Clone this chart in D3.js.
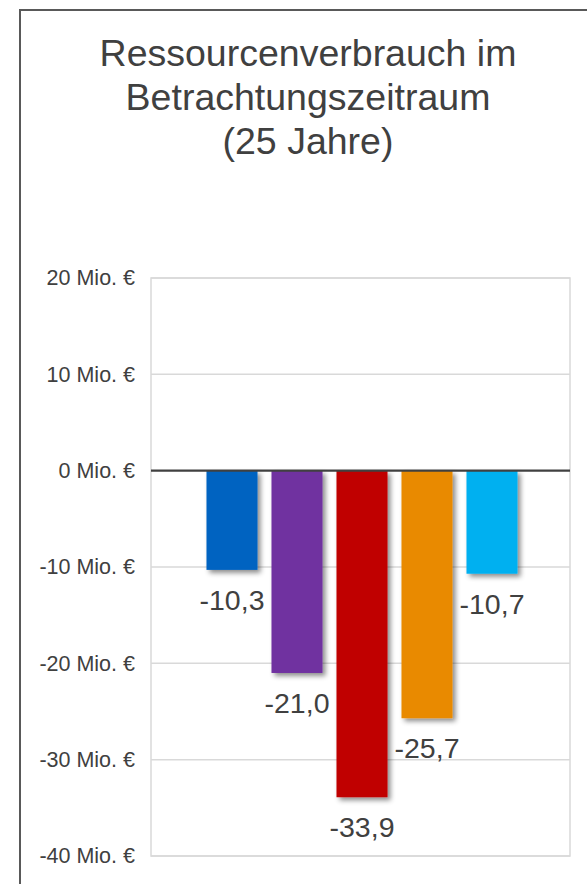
<!DOCTYPE html>
<html>
<head>
<meta charset="utf-8">
<script src="https://cdn.jsdelivr.net/npm/d3@7"></script>
<style>
  html, body { margin: 0; padding: 0; background: #fff; }
  svg { display: block; font-family: "Liberation Sans", Arial, sans-serif; }
</style>
</head>
<body>
<script>
// chart values
const titleLines = ["Ressourcenverbrauch im", "Betrachtungszeitraum", "(25 Jahre)"];
const series = ["A", "B", "C", "D", "E"];
const values = [-10.3, -21.0, -33.9, -25.7, -10.7];
const colors = ["#0563C1", "#7030A0", "#C00000", "#E98A00", "#00B0F0"];
const yTicks = [20, 10, 0, -10, -20, -30, -40];

const w = 587, h = 884;
const svg = d3.select("body").append("svg")
  .attr("width", w)
  .attr("height", h);

const defs = svg.append("defs");
const f = defs.append("filter").attr("id", "shadow")
  .attr("x", "-20%").attr("y", "-20%").attr("width", "150%").attr("height", "150%");
f.append("feDropShadow")
  .attr("dx", 3).attr("dy", 3).attr("stdDeviation", 2.5)
  .attr("flood-color", "#000").attr("flood-opacity", 0.45);

// outer frame (only left and top visible)
svg.append("rect")
  .attr("x", 20).attr("y", 10)
  .attr("width", 600).attr("height", 900)
  .attr("fill", "none")
  .attr("stroke", "#595959")
  .attr("stroke-width", 2);

// title
svg.append("g")
  .selectAll("text")
  .data(titleLines)
  .join("text")
  .attr("x", 308)
  .attr("y", (d, i) => 66 + i * 44)
  .attr("text-anchor", "middle")
  .attr("fill", "#404040")
  .style("font-size", "37.5px")
  .text(d => d);

const plot = {left: 151, right: 570, top: 278, bottom: 856};

const y = d3.scaleLinear().domain([-40, 20]).range([plot.bottom, plot.top]);
const x = d3.scaleBand().domain(series)
  .range([199.5, 524.5])
  .paddingInner(0.215)
  .paddingOuter(0.1075);

// plot area border + gridlines
svg.append("rect")
  .attr("x", plot.left).attr("y", plot.top)
  .attr("width", plot.right - plot.left)
  .attr("height", plot.bottom - plot.top)
  .attr("fill", "none")
  .attr("stroke", "#d9d9d9")
  .attr("stroke-width", 1.5);

svg.append("g")
  .selectAll("line")
  .data(yTicks.filter(t => t !== 0))
  .join("line")
  .attr("x1", plot.left).attr("x2", plot.right)
  .attr("y1", d => y(d)).attr("y2", d => y(d))
  .attr("stroke", "#d9d9d9")
  .attr("stroke-width", 1.5);

// y axis labels
const yAxis = svg.append("g")
  .attr("transform", `translate(${plot.left},0)`)
  .call(d3.axisLeft(y).tickValues(yTicks).tickSize(0).tickPadding(16)
    .tickFormat(d => `${d} Mio. €`));
yAxis.select(".domain").remove();
yAxis.selectAll("text")
  .attr("fill", "#404040")
  .style("font-size", "21.5px")
  .style("font-family", "Liberation Sans, Arial, sans-serif");

// bars
const data = series.map((s, i) => ({s, v: values[i], c: colors[i]}));
svg.append("g")
  .selectAll("rect")
  .data(data)
  .join("rect")
  .attr("x", d => x(d.s))
  .attr("width", x.bandwidth())
  .attr("y", y(0))
  .attr("height", d => y(d.v) - y(0))
  .attr("fill", d => d.c)
  .attr("filter", "url(#shadow)");

// zero line
svg.append("line")
  .attr("x1", plot.left).attr("x2", plot.right)
  .attr("y1", y(0)).attr("y2", y(0))
  .attr("stroke", "#404040")
  .attr("stroke-width", 2.2);

// value labels
svg.append("g")
  .selectAll("text")
  .data(data)
  .join("text")
  .attr("x", d => x(d.s) + x.bandwidth() / 2)
  .attr("y", d => y(d.v) + 40)
  .attr("text-anchor", "middle")
  .attr("fill", "#404040")
  .style("font-size", "28.5px")
  .text(d => d3.format(".1f")(d.v).replace(".", ",").replace("−", "-"));
</script>
</body>
</html>
